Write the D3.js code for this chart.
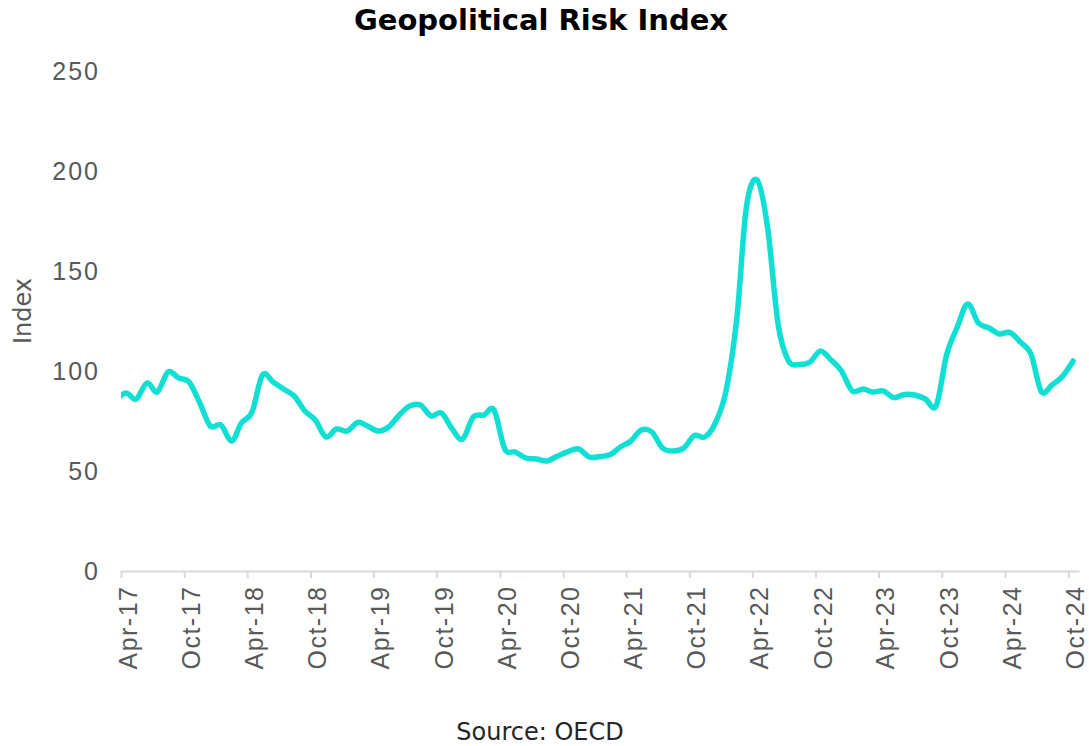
<!DOCTYPE html>
<html>
<head>
<meta charset="utf-8">
<script src="https://cdn.jsdelivr.net/npm/d3@7"></script>
<style>
  body { margin: 0; background: #fff; }
  svg { display: block; font-family: "DejaVu Sans", sans-serif; }
</style>
</head>
<body>
<div id="chart"></div>
<script>
// monthly readings, placed mid-month
const months = [
    'Mar-17', 'Apr-17', 'May-17', 'Jun-17', 'Jul-17', 'Aug-17', 'Sep-17', 'Oct-17', 'Nov-17', 'Dec-17',
    'Jan-18', 'Feb-18', 'Mar-18', 'Apr-18', 'May-18', 'Jun-18', 'Jul-18', 'Aug-18', 'Sep-18', 'Oct-18', 'Nov-18', 'Dec-18',
    'Jan-19', 'Feb-19', 'Mar-19', 'Apr-19', 'May-19', 'Jun-19', 'Jul-19', 'Aug-19', 'Sep-19', 'Oct-19', 'Nov-19', 'Dec-19',
    'Jan-20', 'Feb-20', 'Mar-20', 'Apr-20', 'May-20', 'Jun-20', 'Jul-20', 'Aug-20', 'Sep-20', 'Oct-20', 'Nov-20', 'Dec-20',
    'Jan-21', 'Feb-21', 'Mar-21', 'Apr-21', 'May-21', 'Jun-21', 'Jul-21', 'Aug-21', 'Sep-21', 'Oct-21', 'Nov-21', 'Dec-21',
    'Jan-22', 'Feb-22', 'Mar-22', 'Apr-22', 'May-22', 'Jun-22', 'Jul-22', 'Aug-22', 'Sep-22', 'Oct-22', 'Nov-22', 'Dec-22',
    'Jan-23', 'Feb-23', 'Mar-23', 'Apr-23', 'May-23', 'Jun-23', 'Jul-23', 'Aug-23', 'Sep-23', 'Oct-23', 'Nov-23', 'Dec-23',
    'Jan-24', 'Feb-24', 'Mar-24', 'Apr-24', 'May-24', 'Jun-24', 'Jul-24', 'Aug-24', 'Sep-24', 'Oct-24'
];

const riskIndex = [
    85, 89, 86, 94, 89.5, 99.5, 96.5, 94.5, 84, 72.5,
    73, 65, 74, 79.5, 98, 94.5, 91, 87.5, 80, 75.5, 67, 71,
    70, 74.3, 72.5, 70, 72, 78, 82.5, 83, 77.5, 79, 71, 66,
    77, 78, 80.5, 61, 59.5, 56.5, 56, 55, 57.5, 59.7, 61, 57,
    57.2, 58.3, 62, 65, 70.5, 69.5, 61.5, 60, 61.5, 67.7, 67, 74,
    90, 126, 182, 195.5, 172, 123, 105, 103.3, 104.5, 110, 105.5, 100,
    90, 91, 89.5, 90, 86.7, 88.3, 88, 86, 82.7, 108, 122, 133.5,
    124, 121.5, 118.5, 119.3, 114.5, 108.5, 89.7, 93, 97.5, 105
];

const xTickLabels = [
    'Apr-17', 'Oct-17', 'Apr-18', 'Oct-18', 'Apr-19', 'Oct-19', 'Apr-20', 'Oct-20',
    'Apr-21', 'Oct-21', 'Apr-22', 'Oct-22', 'Apr-23', 'Oct-23', 'Apr-24', 'Oct-24'
];

const yTicks = [0, 50, 100, 150, 200, 250];

const width = 1089;
const height = 746;
const margin = { top: 71, right: 10, bottom: 175, left: 121 };
const lineColor = '#12dfd3';
const textGrey = '#595959';

const parseMonth = d3.timeParse('%b-%y');

const data = months.map((m, i) => ({
    date: d3.timeDay.offset(parseMonth(m), 14),
    value: riskIndex[i]
}));

const svg = d3.select('#chart')
    .append('svg')
    .attr('width', width)
    .attr('height', height);

const x = d3.scaleTime()
    .domain([parseMonth('Apr-17'), parseMonth('Nov-24')])
    .range([margin.left, 1079]);

const y = d3.scaleLinear()
    .domain([0, 250])
    .range([height - margin.bottom, margin.top]);

// title
svg.append('text')
    .attr('x', 541)
    .attr('y', 30)
    .attr('text-anchor', 'middle')
    .style('font-size', '29px')
    .style('font-weight', 'bold')
    .style('fill', '#000')
    .text('Geopolitical Risk Index');

// y axis (labels only)
const yAxis = svg.append('g')
    .attr('transform', `translate(${margin.left}, 0)`)
    .call(d3.axisLeft(y)
        .tickValues(yTicks)
        .tickSize(0)
        .tickPadding(21));

yAxis.select('.domain').remove();
yAxis.selectAll('text')
    .style('font-size', '25px')
    .style('letter-spacing', '2px')
    .style('fill', textGrey);

svg.append('text')
    .attr('transform', `translate(31, ${y(130)}) rotate(-90)`)
    .attr('text-anchor', 'middle')
    .style('font-size', '24px')
    .style('fill', textGrey)
    .text('Index');

// x axis
const xAxis = svg.append('g')
    .attr('transform', `translate(0, ${y(0)})`)
    .call(d3.axisBottom(x)
        .tickValues(xTickLabels.map(parseMonth))
        .tickSizeInner(7)
        .tickSizeOuter(0)
        .tickFormat(d3.timeFormat('%b-%y')));

xAxis.select('.domain')
    .attr('stroke', '#d9d9d9')
    .attr('stroke-width', 2);

xAxis.selectAll('.tick line')
    .attr('stroke', '#d9d9d9')
    .attr('stroke-width', 2);

xAxis.selectAll('.tick text')
    .attr('transform', 'rotate(-90)')
    .attr('text-anchor', 'end')
    .attr('x', -14.5)
    .attr('y', 15.5)
    .attr('dy', 0)
    .style('font-size', '25px')
    .style('letter-spacing', '1.5px')
    .style('fill', textGrey);

// line
svg.append('clipPath')
    .attr('id', 'plot-clip')
    .append('rect')
    .attr('x', margin.left)
    .attr('y', 0)
    .attr('width', 1079 - margin.left + 10)
    .attr('height', height);

const line = d3.line()
    .x(d => x(d.date))
    .y(d => y(d.value))
    .curve(d3.curveCardinal.tension(0));

svg.append('path')
    .datum(data)
    .attr('clip-path', 'url(#plot-clip)')
    .attr('fill', 'none')
    .attr('stroke', lineColor)
    .attr('stroke-width', 5.5)
    .attr('stroke-linecap', 'round')
    .attr('stroke-linejoin', 'round')
    .attr('d', line);

// source
svg.append('text')
    .attr('x', 540)
    .attr('y', 740)
    .attr('text-anchor', 'middle')
    .style('font-size', '24px')
    .style('fill', '#262626')
    .text('Source: OECD');
</script>
</body>
</html>
